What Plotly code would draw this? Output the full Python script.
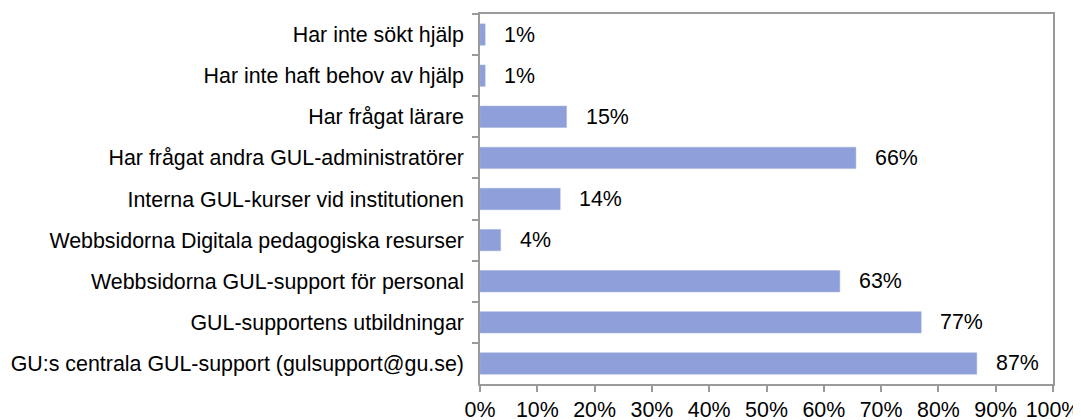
import plotly.graph_objects as go

categories = [
    "Har inte sökt hjälp",
    "Har inte haft behov av hjälp",
    "Har frågat lärare",
    "Har frågat andra GUL-administratörer",
    "Interna GUL-kurser vid institutionen",
    "Webbsidorna Digitala pedagogiska resurser",
    "Webbsidorna GUL-support för personal",
    "GUL-supportens utbildningar",
    "GU:s centrala GUL-support (gulsupport@gu.se)",
]
values = [0.9, 0.9, 15.1, 65.6, 14.0, 3.6, 62.8, 77.0, 86.7]
labels = ["1%", "1%", "15%", "66%", "14%", "4%", "63%", "77%", "87%"]
x_ticks = [0, 10, 20, 30, 40, 50, 60, 70, 80, 90, 100]
x_tick_labels = [f"{t}%" for t in x_ticks]

FONT = "Liberation Sans, Arial, sans-serif"
FS = 21.4
AXIS_COLOR = "#9a9a9a"

fig = go.Figure(
    go.Bar(
        x=values,
        y=categories,
        orientation="h",
        marker=dict(color="#8e9fd9", line=dict(color="#a3b1e0", width=0.5)),
        width=0.52,
        hoverinfo="skip",
    )
)

for c, v, t in zip(categories, values, labels):
    fig.add_annotation(
        x=v, y=c, text=t, showarrow=False, xanchor="left", yanchor="middle",
        xshift=17, font=dict(family=FONT, size=FS, color="#000000"),
    )

# page body has an 8px default margin, so the figure is offset by 8px
fig.update_layout(
    width=1073, height=412,
    margin=dict(l=472, r=28, t=6, b=36, pad=0, autoexpand=False),
    plot_bgcolor="white", paper_bgcolor="white",
    showlegend=False,
    font=dict(family=FONT, size=FS, color="#000000"),
)
fig.update_xaxes(
    range=[0, 100], tickvals=x_ticks, ticktext=x_tick_labels,
    showgrid=False, zeroline=False, automargin=False,
    showline=True, linecolor=AXIS_COLOR, linewidth=1.5, mirror=True,
    ticks="outside", ticklen=6, tickcolor=AXIS_COLOR, tickwidth=1.5,
    ticklabelstandoff=0,
    tickfont=dict(family=FONT, size=FS, color="#000000"),
)
fig.update_yaxes(
    autorange="reversed", showgrid=False, zeroline=False, automargin=False,
    showline=True, linecolor=AXIS_COLOR, linewidth=1.5, mirror=True,
    ticks="outside", ticklen=6, tickcolor=AXIS_COLOR, tickwidth=1.5,
    tickson="boundaries", ticklabelstandoff=10,
    tickfont=dict(family=FONT, size=FS, color="#000000"),
)

fig.write_html("out.html")
